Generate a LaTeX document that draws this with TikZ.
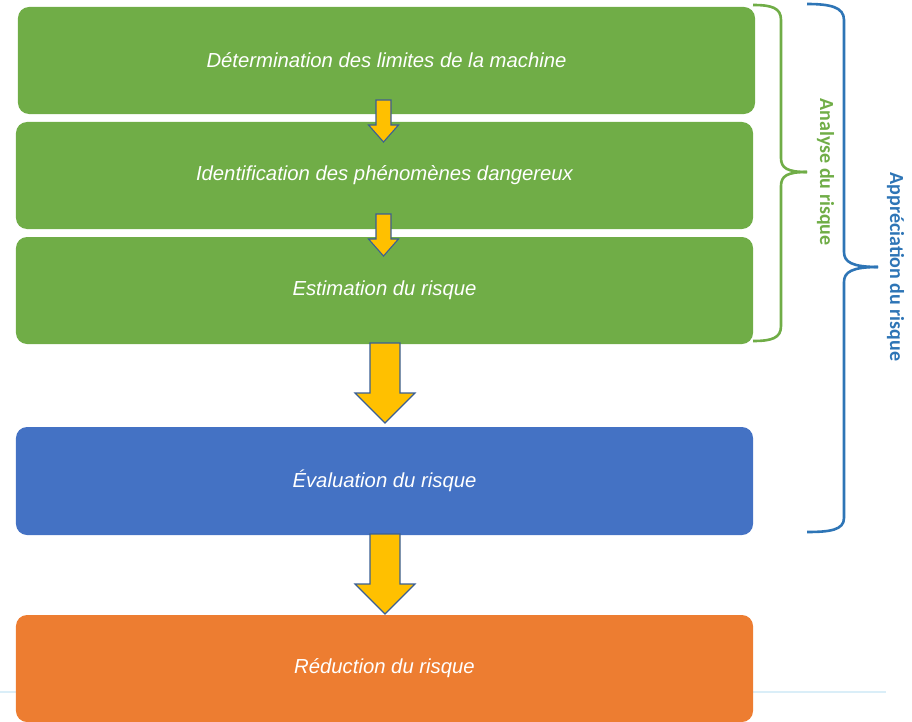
\documentclass[tikz,border=0pt]{standalone}
\usepackage{fontspec}
\setmainfont{Liberation Sans}
\newfontfamily\calib{Carlito}
\definecolor{cgreen}{HTML}{70AD47}
\definecolor{cblue}{HTML}{4472C4}
\definecolor{corange}{HTML}{ED7D31}
\definecolor{cyellow}{HTML}{FFC000}
\definecolor{coutline}{HTML}{3A5F94}
\definecolor{cbrgreen}{HTML}{70AD47}
\definecolor{cbrblue}{HTML}{2E75B6}
\definecolor{clight}{HTML}{DAEEF8}
\begin{document}
\begin{tikzpicture}[x=1bp,y=-1bp,
  stepbox/.style={rounded corners=11bp, minimum width=737bp, minimum height=107bp,
    inner sep=0pt, text=white, font=\fontsize{20.3bp}{23bp}\selectfont\itshape},
  blockarrow/.style={fill=cyellow, draw=coutline, line width=1.1bp, line join=miter},
  brace/.style={line width=2.6bp, line cap=butt},
  bracelabel/.style={rotate=-90, font=\calib\bfseries\fontsize{20bp}{22bp}\selectfont}]
\useasboundingbox (0,0) rectangle (912,722);
\clip (0,0) rectangle (912,722);
% light rule
\draw[clight, line width=2bp] (0,692) -- (886,692);
% boxes
\node[stepbox, fill=cgreen] (b1) at (386.5,60.5) {Détermination des limites de la machine};
\node[stepbox, fill=cgreen] (b2) at (384.5,175.5) {Identification des phénomènes dangereux};
\node[stepbox, fill=cgreen] (b3) at (384.5,290.5) {Estimation du risque};
\node[stepbox, fill=cblue, minimum height=108bp] (b4) at (384.5,481) {Évaluation du risque};
\node[stepbox, fill=corange] (b5) at (384.5,668.5) {Réduction du risque};
% block arrows
\draw[blockarrow] (376,100) -- (391,100) -- (391,125) -- (398.5,125) -- (383.5,142) -- (368.5,125) -- (376,125) -- cycle;
\draw[blockarrow] (376,214) -- (391,214) -- (391,239) -- (398.5,239) -- (383.5,256) -- (368.5,239) -- (376,239) -- cycle;
\draw[blockarrow] (370,343) -- (400,343) -- (400,393) -- (415,393) -- (385,423) -- (355,393) -- (370,393) -- cycle;
\draw[blockarrow] (370,534) -- (400,534) -- (400,584) -- (415,584) -- (385,614) -- (355,584) -- (370,584) -- cycle;
% green brace
\draw[brace, cbrgreen] (753,5) .. controls (772,5) and (781,8) .. (781,20) -- (781,158)
  .. controls (781,168) and (787,172) .. (807,172);
\draw[brace, cbrgreen] (807,172) .. controls (787,172) and (781,176) .. (781,186) -- (781,326)
  .. controls (781,338) and (772,341) .. (753,341);
% blue brace
\draw[brace, cbrblue] (807,4) .. controls (830,4) and (844,7) .. (844,20) -- (844,252)
  .. controls (844,262) and (852,267) .. (878,267);
\draw[brace, cbrblue] (878,267) .. controls (852,267) and (844,272) .. (844,282) -- (844,518)
  .. controls (844,530) and (830,532) .. (807,532);
% labels
\node[bracelabel, text=cbrgreen] (l1) at (825.5,172) {Analyse du risque};
\node[bracelabel, text=cbrblue] (l2) at (895.5,267) {Appréciation du risque};
\end{tikzpicture}
\end{document}
